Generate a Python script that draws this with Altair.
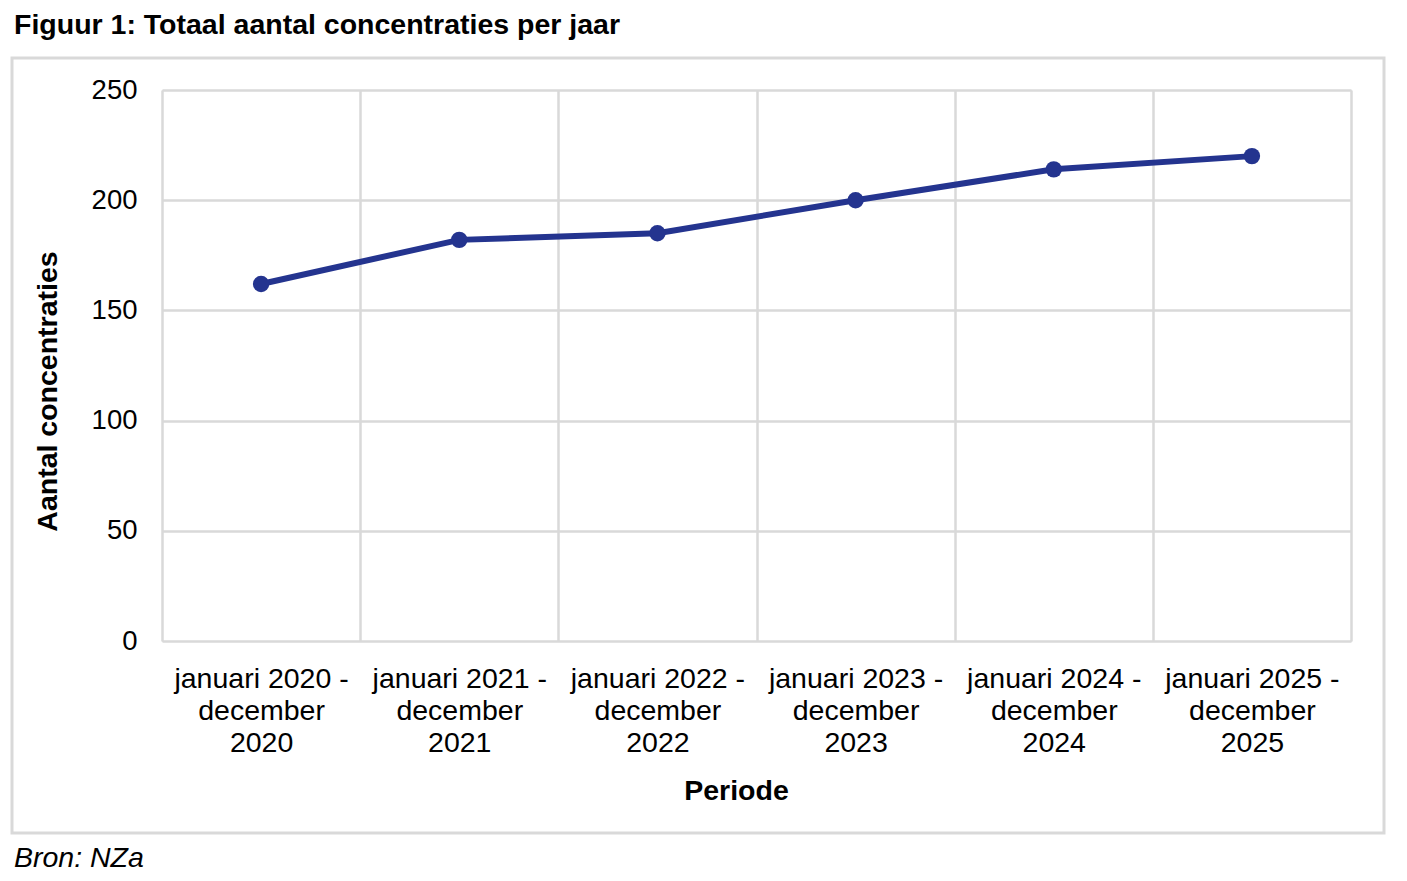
import altair as alt
import pandas as pd

periods = [
    "januari 2020 - december 2020",
    "januari 2021 - december 2021",
    "januari 2022 - december 2022",
    "januari 2023 - december 2023",
    "januari 2024 - december 2024",
    "januari 2025 - december 2025",
]
counts = [162, 182, 185, 200, 214, 220]
y_ticks = [0, 50, 100, 150, 200, 250]

title_text = "Figuur 1: Totaal aantal concentraties per jaar"
source_text = "Bron: NZa"

df = pd.DataFrame({"period": periods, "count": counts})

FONT = "Liberation Sans"
LINE = "#24348F"
GRID = "#d9d9d9"
FS = 28.5

x_enc = alt.X(
    "period:N",
    sort=periods,
    scale=alt.Scale(paddingInner=0, paddingOuter=0),
    axis=alt.Axis(
        title="Periode",
        tickBand="extent",
        labelExpr="datum.label ? [slice(datum.label, 0, 14), 'december', slice(datum.label, -4)] : ''",
        labelAngle=0,
        labelOverlap=False,
        labelLimit=400,
        ticks=False,
        domain=False,
        grid=True,
        gridColor=GRID,
        gridWidth=2.5,
        labelPadding=23,
        labelBaseline="top",
        labelLineHeight=32,
        labelFontSize=FS,
        titleFontSize=FS,
        titleFontWeight="bold",
        titleX=574,
        titleY=149,
        titleAlign="center",
        titleBaseline="middle",
    ),
)
y_enc = alt.Y(
    "count:Q",
    scale=alt.Scale(domain=[0, 250], nice=False),
    axis=alt.Axis(
        title="Aantal concentraties",
        values=y_ticks,
        ticks=False,
        domain=False,
        grid=True,
        gridColor=GRID,
        gridWidth=2.5,
        labelPadding=25,
        labelFontSize=27.5,
        titleFontSize=FS,
        titleFontWeight="bold",
        titleX=-115,
        titleY=301,
        titleAngle=-90,
        titleAlign="center",
        titleBaseline="middle",
    ),
)

base = alt.Chart(df)
line = base.mark_line(color=LINE, strokeWidth=6).encode(x=x_enc, y=y_enc)
points = base.mark_point(filled=True, color=LINE, size=270, opacity=1).encode(
    x=alt.X("period:N", sort=periods), y=alt.Y("count:Q")
)

one = alt.Data(values=[{"a": 1}])
box = alt.Chart(one).mark_rect(fill=None, stroke=GRID, strokeWidth=3).encode(
    x=alt.value(-150), x2=alt.value(1222), y=alt.value(-32), y2=alt.value(743)
)
title = alt.Chart(one).mark_text(
    text=title_text, font=FONT, fontSize=FS, fontWeight="bold",
    align="left", baseline="alphabetic", color="black"
).encode(x=alt.value(-148), y=alt.value(-56))
source = alt.Chart(one).mark_text(
    text=source_text, font=FONT, fontSize=FS, fontStyle="italic",
    align="left", baseline="alphabetic", color="black"
).encode(x=alt.value(-148), y=alt.value(777))

chart = alt.layer(box, line, points, title, source).properties(
    width=1189,
    height=551,
    autosize=alt.AutoSizeParams(type="none"),
    padding={"left": 154, "top": 82, "right": 40, "bottom": 232},
).configure_view(
    stroke=GRID, strokeWidth=2.5
).configure_axis(
    labelFont=FONT, titleFont=FONT, labelColor="black", titleColor="black"
).configure(background="white")

chart.save("out.html", embed_options={"renderer": "svg", "actions": False})
